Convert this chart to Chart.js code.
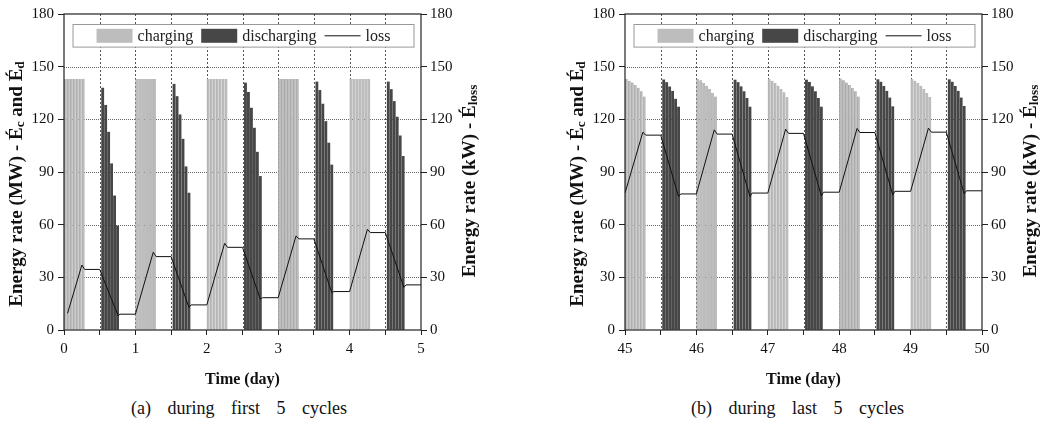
<!DOCTYPE html>
<html>
<head>
<meta charset="utf-8">
<script src="https://cdn.jsdelivr.net/npm/chart.js@4.4.0/dist/chart.umd.min.js"></script>
<style>
  body { margin: 0; background: #fff; width: 1041px; height: 428px; overflow: hidden; position: relative; font-family: "Liberation Serif", serif; }
  .panel { position: absolute; top: 0; }
  .cap { position: absolute; top: 398px; font-size: 18px; word-spacing: 12px; color: #111; white-space: nowrap; }
</style>
</head>
<body>
<div class="panel" style="left:0"><canvas id="chartA" width="480" height="392"></canvas></div>
<div class="panel" style="left:561px"><canvas id="chartB" width="480" height="392"></canvas></div>
<div class="cap" style="left:131px">(a) during first 5 cycles</div>
<div class="cap" style="left:691px">(b) during last 5 cycles</div>

<script>
// hours of the day with a bar
var chargeHours = [0.5, 1.5, 2.5, 3.5, 4.5, 5.5, 6.5];
var dischargeHours = [13, 14, 15, 16, 17, 18];

// (a) first 5 cycles
var daysA = [0, 1, 2, 3, 4];
var chargeA = [
  [143, 143, 143, 143, 143, 143, 143],
  [143, 143, 143, 143, 143, 143, 143],
  [143, 143, 143, 143, 143, 143, 143],
  [143, 143, 143, 143, 143, 143, 143],
  [143, 143, 143, 143, 143, 143, 143]
];
var dischargeA = [
  [137.8, 128, 112.7, 94.7, 76.4, 59.3],
  [140, 133, 122.6, 108.7, 93, 78],
  [140.7, 135.4, 126.4, 115, 101.3, 87.5],
  [141.3, 136.5, 128.7, 118.8, 106.5, 94],
  [141.3, 137, 130.2, 121.3, 110.6, 98.9]
];
var lossTimeA = [0.05, 0.25, 0.29, 0.5, 0.76, 0.78, 1.0, 1.25, 1.29, 1.5, 1.75, 1.78, 2.0, 2.25, 2.29, 2.5,
  2.75, 2.78, 3.0, 3.25, 3.29, 3.5, 3.75, 3.78, 4.0, 4.25, 4.29, 4.5, 4.76, 4.79, 5.0];
var lossA = [9.5, 37, 34.5, 34.5, 8, 9, 9, 44.3, 41.8, 41.8, 12.9, 14.3, 14.3, 49.4, 47.1, 47.1,
  17.5, 18.4, 18.4, 53.6, 51.9, 51.9, 21.3, 21.9, 21.9, 57.4, 55.5, 55.5, 24.3, 25.7, 25.7];

// (b) last 5 cycles
var daysB = [45, 46, 47, 48, 49];
var chargeB = [
  [143, 142, 141, 139.5, 138, 136, 133],
  [143, 142.2, 140.7, 139.2, 137.3, 135, 133],
  [143, 142, 140.7, 139.2, 137.3, 135.4, 132.7],
  [143.2, 142.2, 141, 139.5, 137.8, 136, 133],
  [143, 142, 140.7, 139.2, 137.3, 135, 132.7]
];
var dischargeB = [
  [142.5, 141, 138.5, 136, 131.5, 127],
  [142.4, 141, 138.6, 135.8, 132, 127],
  [142.4, 141.1, 138.6, 135.8, 132, 127],
  [142.6, 141.2, 138.8, 136, 132.2, 127.2],
  [142.6, 141.2, 138.8, 136, 132.2, 127.4]
];
var lossTimeB = [45.0, 45.25, 45.29, 45.5, 45.75, 45.78, 46.0, 46.25, 46.29, 46.5, 46.75, 46.78, 47.0, 47.25, 47.29, 47.5,
  47.75, 47.78, 48.0, 48.25, 48.29, 48.5, 48.75, 48.78, 49.0, 49.25, 49.29, 49.5, 49.75, 49.78, 50.0];
var lossB = [78, 112.7, 111, 111, 76, 77.5, 77.5, 114, 111.6, 111.6, 76, 78, 78, 114.4, 112, 112,
  76.4, 78.5, 78.5, 114.8, 112.5, 112.5, 77, 79, 79, 115, 112.7, 112.7, 77.6, 79.3, 79.3];

var yTicks = [0, 30, 60, 90, 120, 150, 180];

var SERIF = '"Liberation Serif", "Times New Roman", serif';
var chargeColor = '#bdbdbd';
var dischargeColor = '#474747';

function barPoints(days, hours, values) {
  var pts = [];
  days.forEach(function (d, i) {
    hours.forEach(function (h, j) {
      pts.push({ x: d + h / 24, y: values[i][j] });
    });
  });
  return pts;
}

function linePoints(times, values) {
  return times.map(function (t, i) { return { x: t, y: values[i] }; });
}

// vertical title, reading bottom to top, with subscript parts
function drawVerticalTitle(ctx, parts, cx, cy, size) {
  ctx.save();
  ctx.translate(cx, cy);
  ctx.rotate(-Math.PI / 2);
  var total = 0;
  parts.forEach(function (p) {
    ctx.font = 'bold ' + (p.sub ? size * 0.7 : size) + 'px ' + SERIF;
    p.w = ctx.measureText(p.t).width;
    total += p.w;
  });
  var x = -total / 2;
  ctx.fillStyle = '#111';
  ctx.textBaseline = 'alphabetic';
  parts.forEach(function (p) {
    ctx.font = 'bold ' + (p.sub ? size * 0.7 : size) + 'px ' + SERIF;
    ctx.fillText(p.t, x, size * 0.35 + (p.sub ? size * 0.1 : 0));
    x += p.w;
  });
  ctx.restore();
}

// dotted grid behind the bars, placed through the scales
var gridPlugin = {
  id: 'dotgrid',
  beforeDatasetsDraw: function (chart) {
    var ctx = chart.ctx, a = chart.chartArea;
    var xs = chart.scales.x, ys = chart.scales.y;
    var top = Math.round(a.top), bottom = Math.round(a.bottom);
    var left = Math.round(a.left), right = Math.round(a.right);
    ctx.save();
    ctx.lineWidth = 1;
    ctx.setLineDash([2, 2]);
    ctx.strokeStyle = '#555';
    for (var v = xs.min + 0.5; v < xs.max; v += 0.5) {
      var px = Math.round(xs.getPixelForValue(v)) + 0.5;
      ctx.beginPath();
      ctx.moveTo(px, top);
      ctx.lineTo(px, bottom);
      ctx.stroke();
    }
    ctx.setLineDash([1, 1]);
    ctx.strokeStyle = '#666';
    yTicks.slice(1, -1).forEach(function (val) {
      var py = Math.round(ys.getPixelForValue(val)) + 0.5;
      ctx.beginPath();
      ctx.moveTo(left, py);
      ctx.lineTo(right, py);
      ctx.stroke();
    });
    ctx.restore();
  }
};

var framePlugin = {
  id: 'frame',
  afterDraw: function (chart) {
    var ctx = chart.ctx, a = chart.chartArea;
    ctx.save();
    // plot frame
    ctx.strokeStyle = '#222';
    ctx.lineWidth = 1.2;
    ctx.strokeRect(a.left, a.top, a.right - a.left, a.bottom - a.top);

    // legend inside plot
    var lx = a.left + 9, ly = a.top + 10.5, lw = a.right - a.left - 16, lh = 22.6;
    ctx.fillStyle = '#fff';
    ctx.fillRect(lx, ly, lw, lh);
    ctx.strokeStyle = '#999';
    ctx.lineWidth = 1;
    ctx.strokeRect(lx, ly, lw, lh);

    ctx.font = '16px ' + SERIF;
    var items = chart.data.datasets.map(function (ds) {
      return { label: ds.label, color: ds.backgroundColor || ds.borderColor, line: ds.type === 'line', w: ctx.measureText(ds.label).width };
    });
    var boxW = 36, gapIn = 5, gapOut = 8;
    var total = 0;
    items.forEach(function (it, i) { total += boxW + gapIn + it.w + (i < items.length - 1 ? gapOut : 0); });
    var x = lx + (lw - total) / 2;
    var cy = ly + lh / 2;
    ctx.textBaseline = 'middle';
    items.forEach(function (it) {
      if (it.line) {
        ctx.strokeStyle = '#111';
        ctx.lineWidth = 1;
        ctx.beginPath();
        ctx.moveTo(x, cy);
        ctx.lineTo(x + boxW, cy);
        ctx.stroke();
      } else {
        ctx.fillStyle = it.color;
        ctx.fillRect(x, cy - 7, boxW, 14);
      }
      x += boxW + gapIn;
      ctx.fillStyle = '#222';
      ctx.fillText(it.label, x, cy + 1);
      x += it.w + gapOut;
    });

    // axis titles
    drawVerticalTitle(ctx, [
      { t: 'Energy rate (MW) - É' }, { t: 'c', sub: true }, { t: ' and É' }, { t: 'd', sub: true }
    ], 15, 184, 19);
    drawVerticalTitle(ctx, [
      { t: 'Energy rate (kW) - É' }, { t: 'loss', sub: true }
    ], a.right + 47, 181, 19);
    ctx.restore();
  }
};

function makeChart(id, days, charge, discharge, lossTime, loss, xmin, xmax) {
  var ctx = document.getElementById(id).getContext('2d');
  return new Chart(ctx, {
    type: 'bar',
    data: {
      datasets: [{
        label: 'charging',
        data: barPoints(days, chargeHours, charge),
        backgroundColor: chargeColor,
        borderColor: '#a2a2a2',
        borderWidth: { left: 0.7, right: 0, top: 0, bottom: 0 },
        borderSkipped: false,
        barThickness: 2.6,
        grouped: false,
        yAxisID: 'y',
        order: 2
      }, {
        label: 'discharging',
        data: barPoints(days, dischargeHours, discharge),
        backgroundColor: dischargeColor,
        barThickness: 2.2,
        grouped: false,
        yAxisID: 'y',
        order: 1
      }, {
        type: 'line',
        label: 'loss',
        data: linePoints(lossTime, loss),
        borderColor: '#111',
        borderWidth: 1,
        pointRadius: 0,
        tension: 0,
        fill: false,
        yAxisID: 'y1',
        order: 0
      }]
    },
    options: {
      responsive: false,
      animation: false,
      layout: { padding: { top: 14, left: 0, right: 0, bottom: 0 } },
      plugins: { legend: { display: false }, tooltip: { enabled: false } },
      scales: {
        x: {
          type: 'linear',
          min: xmin,
          max: xmax,
          offset: false,
          afterFit: function (s) { s.height = 62; },
          ticks: {
            stepSize: 0.5,
            padding: 5,
            color: '#111',
            font: { family: SERIF, size: 15 },
            maxRotation: 0,
            autoSkip: false,
            callback: function (v) { return Number.isInteger(v) ? String(v) : ''; }
          },
          grid: { offset: false, drawOnChartArea: false, tickColor: '#222', tickLength: 5, tickWidth: 1 },
          border: { display: false },
          title: { display: true, text: 'Time (day)', color: '#111', font: { family: SERIF, size: 16, weight: 'bold' }, padding: { top: 0, bottom: 3 } }
        },
        y: {
          position: 'left',
          min: 0,
          max: 180,
          afterFit: function (s) { s.width = 64; },
          afterBuildTicks: function (s) { s.ticks = yTicks.map(function (v) { return { value: v }; }); },
          ticks: { padding: 4, color: '#111', font: { family: SERIF, size: 15 } },
          grid: { drawOnChartArea: false, tickColor: '#222', tickLength: 6, tickWidth: 1 },
          border: { display: false }
        },
        y1: {
          position: 'right',
          min: 0,
          max: 180,
          afterFit: function (s) { s.width = 59; },
          afterBuildTicks: function (s) { s.ticks = yTicks.map(function (v) { return { value: v }; }); },
          ticks: { padding: 3, color: '#111', font: { family: SERIF, size: 15 } },
          grid: { drawOnChartArea: false, tickColor: '#222', tickLength: 6, tickWidth: 1 },
          border: { display: false }
        }
      }
    },
    plugins: [gridPlugin, framePlugin]
  });
}

makeChart('chartA', daysA, chargeA, dischargeA, lossTimeA, lossA, 0, 5);
makeChart('chartB', daysB, chargeB, dischargeB, lossTimeB, lossB, 45, 50);
</script>
</body>
</html>
